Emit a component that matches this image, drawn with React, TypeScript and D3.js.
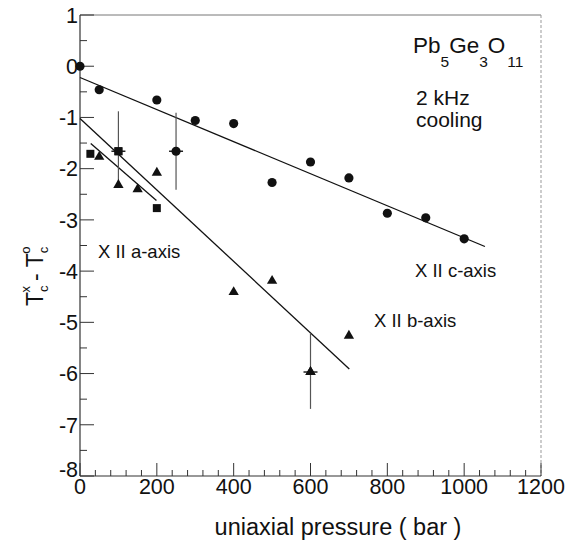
import React from "react";
import * as d3 from "d3";

// ---- data ----
const cX = [0, 50, 200, 300, 400, 500, 600, 700, 800, 900, 1000];
const cY = [0, -0.46, -0.66, -1.06, -1.12, -2.27, -1.87, -2.18, -2.87, -2.96, -3.37];
const bX = [50, 100, 150, 200, 400, 500, 600, 700];
const bY = [-1.77, -2.32, -2.4, -2.08, -4.41, -4.19, -5.97, -5.26];
const aX = [27, 100, 200];
const aY = [-1.71, -1.66, -2.77];

// error-bar points: x, y, low, high, series
const errX = [100, 250, 600];
const errY = [-1.66, -1.66, -5.97];
const errLow = [-2.35, -2.41, -6.69];
const errHigh = [-0.88, -0.91, -5.21];
const errSeries = ["a", "c", "b"];

// fit lines
const cLineX = [0, 1054];
const cLineY = [-0.22, -3.52];
const bLineX = [0, 701];
const bLineY = [-1.02, -5.91];
const aLineX = [28, 199];
const aLineY = [-1.51, -2.62];

const xTicks = [0, 200, 400, 600, 800, 1000, 1200];
const yTicks = [1, 0, -1, -2, -3, -4, -5, -6, -7, -8];

const FONT = "'Liberation Sans', Arial, Helvetica, sans-serif";

export default function App() {
  const W = 566, H = 545;
  const x = d3.scaleLinear().domain([0, 1200]).range([80, 541]);
  const y = d3.scaleLinear().domain([-8, 1]).range([476, 15]);

  const minorX = d3.range(0, 1201, 40);
  const minorY = d3.range(-8, 1.01, 0.5);

  const circle = d3.symbol().type(d3.symbolCircle).size(66)();
  const tri = d3.symbol().type(d3.symbolTriangle).size(46)();
  const sq = d3.symbol().type(d3.symbolSquare).size(64)();
  const symFor = (s: string) => (s === "a" ? sq : s === "b" ? tri : circle);

  const line = (xs: number[], ys: number[]) =>
    d3.line<number>().x((d, i) => x(xs[i])).y((d, i) => y(ys[i]))(xs);

  return (
    <svg width={W} height={H} style={{ position: "absolute", left: 0, top: 0, background: "#fff" }} fontFamily={FONT}>
      {/* frame */}
      <line x1={x(0)} x2={x(1200)} y1={y(1)} y2={y(1)} stroke="#777" strokeWidth={1} />
      <line x1={x(1200)} x2={x(1200)} y1={y(1)} y2={y(-8)} stroke="#999" strokeWidth={1} strokeDasharray="3,2" />
      <line x1={x(0)} x2={x(0)} y1={y(1)} y2={y(-8)} stroke="#333" strokeWidth={1.2} />
      <line x1={x(0)} x2={x(1200)} y1={y(-8)} y2={y(-8)} stroke="#333" strokeWidth={1.2} />

      {/* ticks */}
      {minorX.map((v) => (
        <line key={"mx" + v} x1={x(v)} x2={x(v)} y1={y(-8)} y2={y(-8) - (v % 200 === 0 ? 13 : 6)} stroke="#333" strokeWidth={1} />
      ))}
      {minorY.map((v) => (
        <line key={"my" + v} x1={x(0)} x2={x(0) + (Number.isInteger(v) ? 14 : 7)} y1={y(v)} y2={y(v)} stroke="#333" strokeWidth={1} />
      ))}
      {xTicks.map((v) => (
        <text key={"xt" + v} x={x(v)} y={494} fontSize={21.5} textAnchor="middle" fill="#111">{v}</text>
      ))}
      {yTicks.map((v) => (
        <text key={"yt" + v} x={78} y={y(v) + (v === -8 ? -7 : 0)} dy="0.36em" fontSize={21.5} textAnchor="end" fill="#111">{v}</text>
      ))}

      {/* axis titles */}
      <text x={338} y={535} fontSize={23.5} textAnchor="middle" fill="#111">uniaxial pressure ( bar )</text>
      <text transform="translate(43,306) rotate(-90)" fontSize={23} fill="#111">
        T<tspan fontSize={13} dy={5}>c</tspan>
        <tspan fontSize={13} dx={-7} dy={-18}>x</tspan>
        <tspan dy={13} dx={5}>-  T</tspan>
        <tspan fontSize={13} dy={5}>c</tspan>
        <tspan fontSize={13} dx={-7} dy={-18}>o</tspan>
      </text>

      {/* fit lines */}
      <path d={line(cLineX, cLineY) || ""} stroke="#111" strokeWidth={1.3} fill="none" />
      <path d={line(bLineX, bLineY) || ""} stroke="#111" strokeWidth={1.3} fill="none" />
      <path d={line(aLineX, aLineY) || ""} stroke="#111" strokeWidth={1.3} fill="none" />

      {/* error bars */}
      {errX.map((v, i) => (
        <g key={"e" + i}>
          <line x1={x(v)} x2={x(v)} y1={y(errHigh[i])} y2={y(errLow[i])} stroke="#555" strokeWidth={1.2} />
          <line x1={x(v) - 7} x2={x(v) + 7} y1={y(errY[i])} y2={y(errY[i])} stroke="#222" strokeWidth={1.5} />
          <path d={symFor(errSeries[i]) || ""} transform={`translate(${x(v)},${y(errY[i])})`} fill="#111" />
        </g>
      ))}

      {/* markers */}
      {cX.map((v, i) => (
        <path key={"c" + i} d={circle || ""} transform={`translate(${x(v)},${y(cY[i])})`} fill="#111" />
      ))}
      {bX.map((v, i) => (
        <path key={"b" + i} d={tri || ""} transform={`translate(${x(v)},${y(bY[i])})`} fill="#111" />
      ))}
      {aX.map((v, i) => (
        <path key={"a" + i} d={sq || ""} transform={`translate(${x(v)},${y(aY[i])})`} fill="#111" />
      ))}

      {/* annotations */}
      <text x={413} y={53} fontSize={22.5} fill="#111">
        Pb<tspan fontSize={15.5} dy={14}>5</tspan>
        <tspan dy={-14}>Ge</tspan>
        <tspan fontSize={15.5} dy={14}>3</tspan>
        <tspan dy={-14}>O</tspan>
        <tspan fontSize={15.5} dy={14} dx={2}>11</tspan>
      </text>
      <text x={416} y={105} fontSize={21} fill="#111">2 kHz</text>
      <text x={416} y={127} fontSize={21} fill="#111">cooling</text>
      <text x={415} y={277} fontSize={18.5} fill="#111">X II c-axis</text>
      <text x={98} y={258} fontSize={18.5} fill="#111">X II a-axis</text>
      <text x={374} y={327} fontSize={18.5} fill="#111">X II b-axis</text>
    </svg>
  );
}
